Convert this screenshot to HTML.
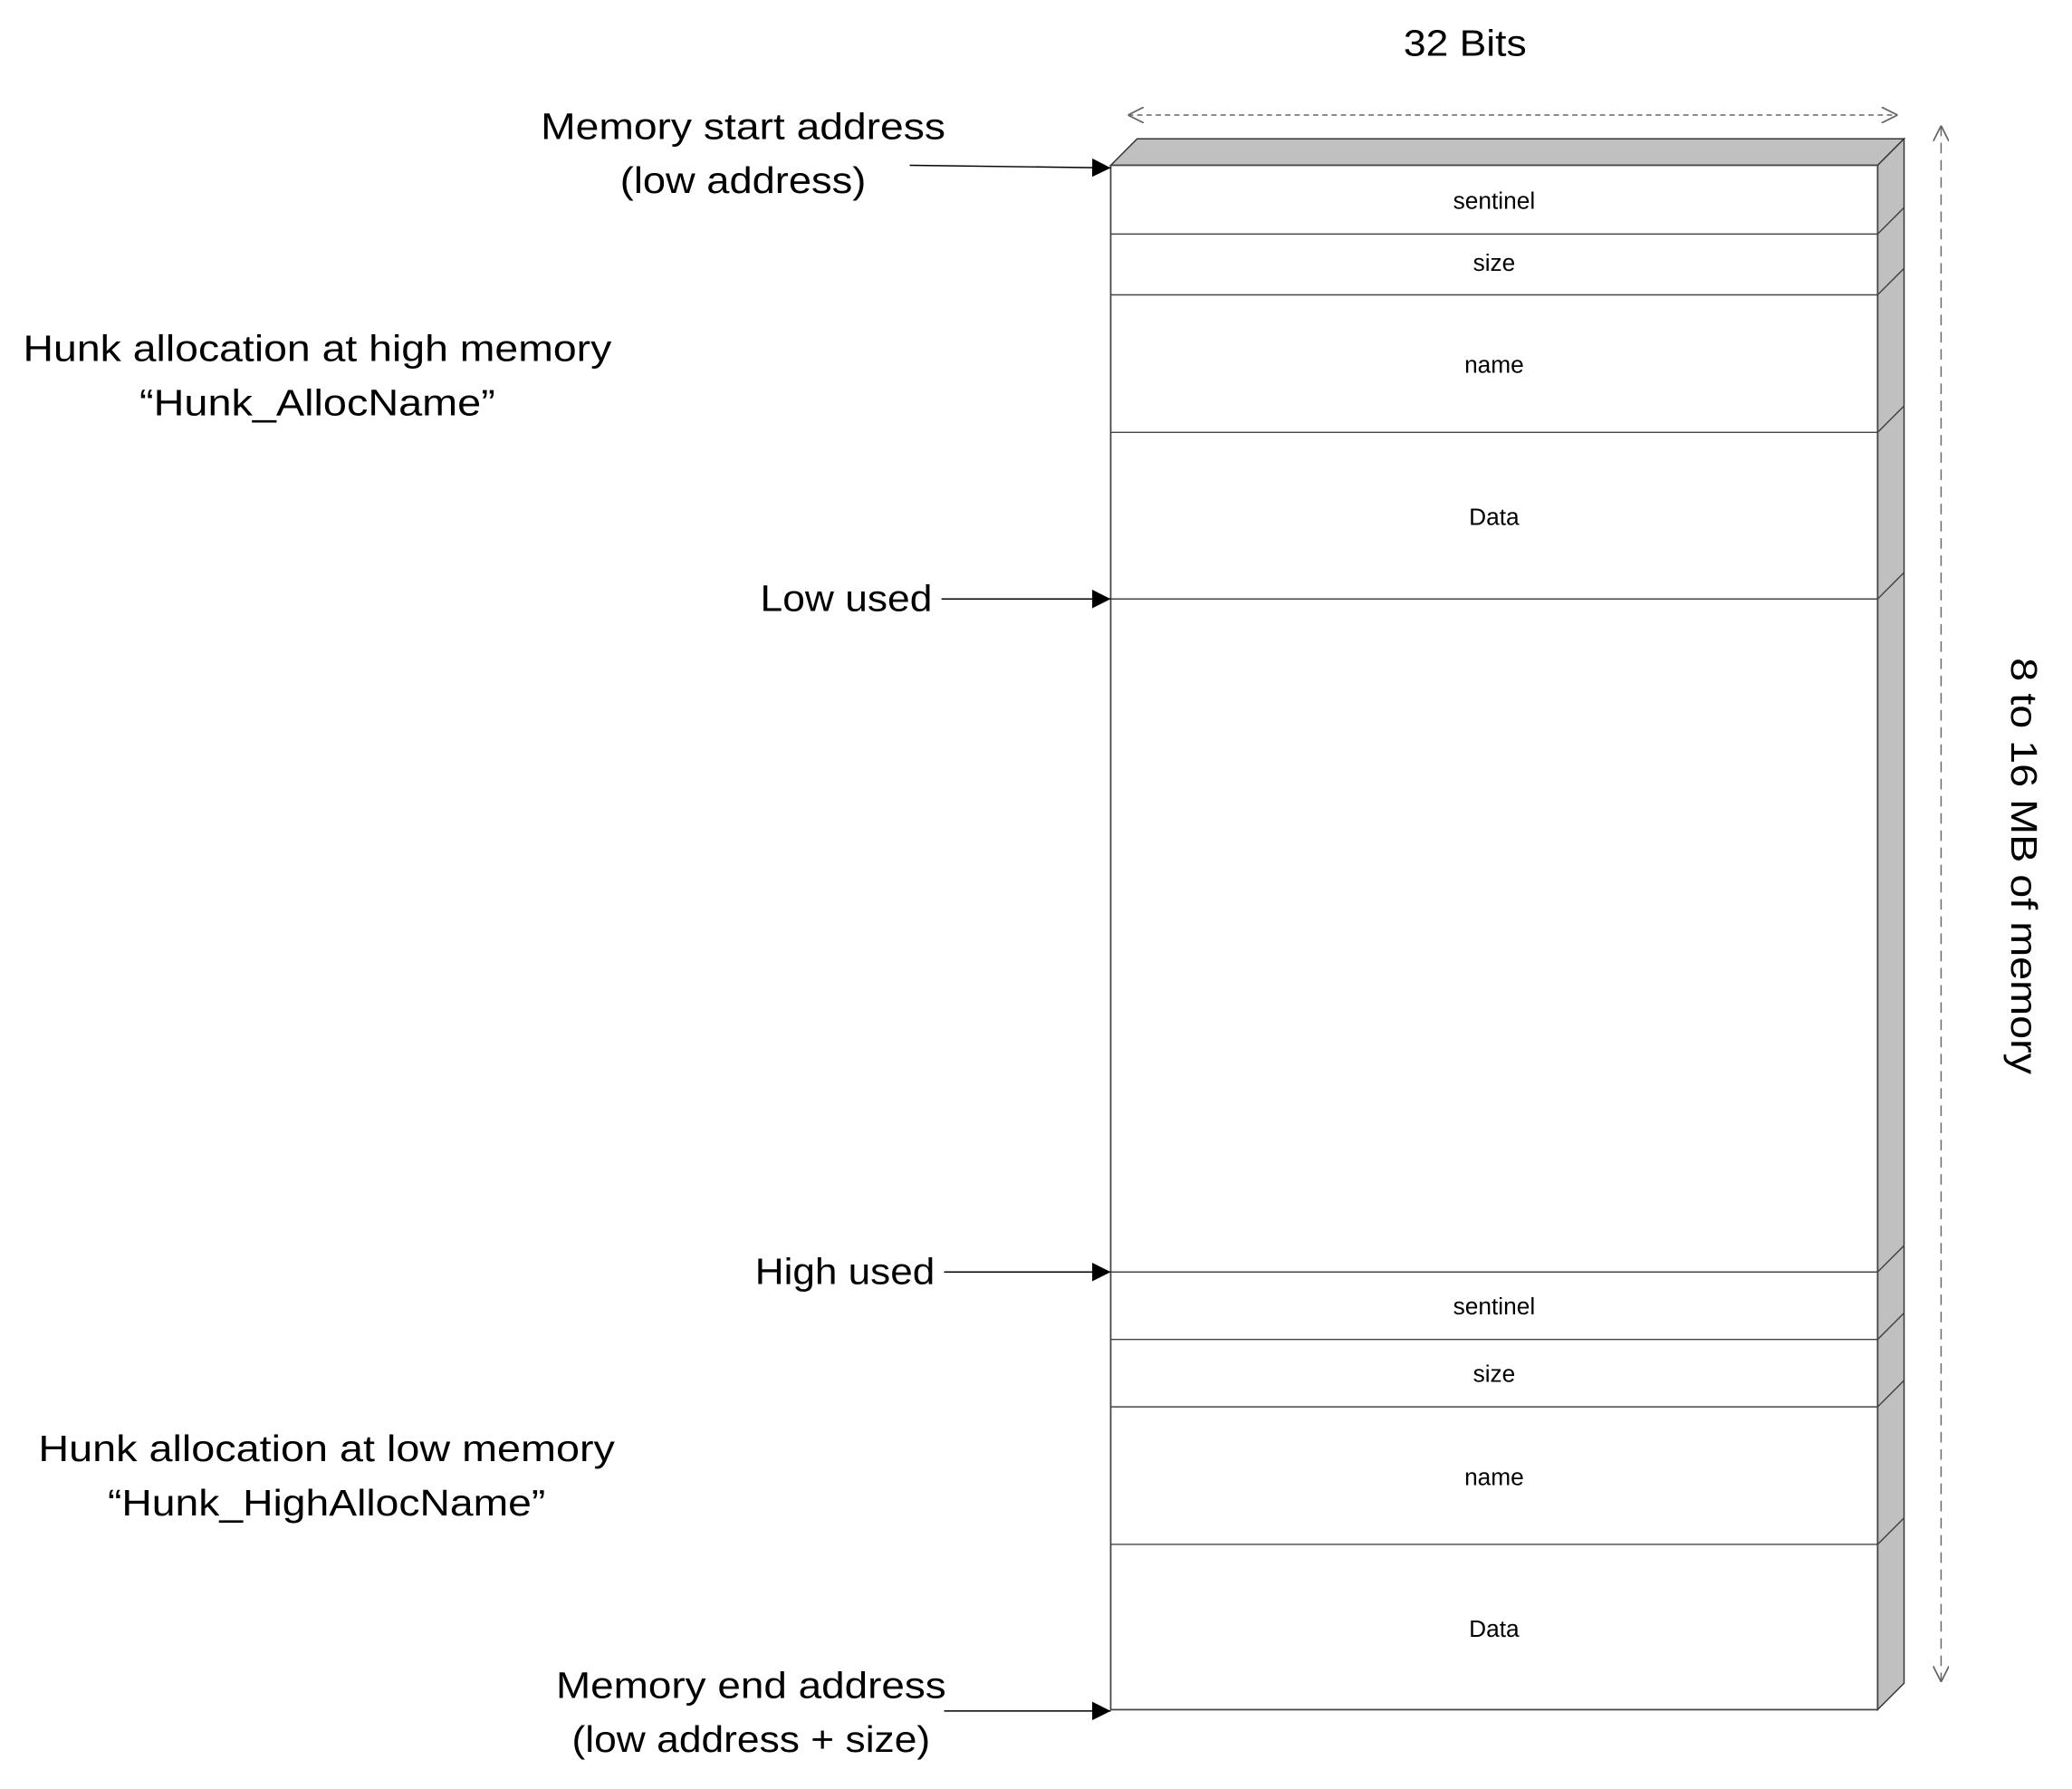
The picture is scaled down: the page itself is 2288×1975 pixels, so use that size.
<!DOCTYPE html>
<html><head><meta charset="utf-8"><style>html,body{margin:0;padding:0;background:#fff}svg{display:block}</style></head>
<body>
<svg width="2288" height="1975" viewBox="0 0 1567 1353" preserveAspectRatio="none" xmlns="http://www.w3.org/2000/svg" font-family="Liberation Sans, sans-serif">
<defs>
<marker id="tri" viewBox="0 0 10 10" refX="10" refY="5" markerWidth="14" markerHeight="14" markerUnits="userSpaceOnUse" orient="auto"><path d="M0,0 L10,5 L0,10 z" fill="#000"/></marker>
<marker id="open" viewBox="0 0 10 10" refX="10" refY="5" markerWidth="12" markerHeight="12" markerUnits="userSpaceOnUse" orient="auto-start-reverse"><path d="M0,0 L10,5 L0,10" fill="none" stroke="#666" stroke-width="1"/></marker>
</defs>
<polygon points="840,125 860,105 1440,105 1420,125" fill="#c0c0c0" stroke="#333" stroke-width="1"/>
<polygon points="1420,125 1440,105 1440,1273 1420,1293" fill="#c0c0c0" stroke="#333" stroke-width="1"/>
<rect x="840" y="125" width="580" height="1168" fill="#fff" stroke="#444" stroke-width="1.2"/>
<g stroke="#444" stroke-width="1">
<line x1="840" y1="177" x2="1420" y2="177"/><line x1="1420" y1="177" x2="1440" y2="157"/>
<line x1="840" y1="223" x2="1420" y2="223"/><line x1="1420" y1="223" x2="1440" y2="203"/>
<line x1="840" y1="327" x2="1420" y2="327"/><line x1="1420" y1="327" x2="1440" y2="307"/>
<line x1="840" y1="453" x2="1420" y2="453"/><line x1="1420" y1="453" x2="1440" y2="433"/>
<line x1="840" y1="962" x2="1420" y2="962"/><line x1="1420" y1="962" x2="1440" y2="942"/>
<line x1="840" y1="1013" x2="1420" y2="1013"/><line x1="1420" y1="1013" x2="1440" y2="993"/>
<line x1="840" y1="1064" x2="1420" y2="1064"/><line x1="1420" y1="1064" x2="1440" y2="1044"/>
<line x1="840" y1="1168" x2="1420" y2="1168"/><line x1="1420" y1="1168" x2="1440" y2="1148"/>
</g>
<g font-size="18" text-anchor="middle" fill="#000">
<text x="1130" y="158">sentinel</text>
<text x="1130" y="205">size</text>
<text x="1130" y="282">name</text>
<text x="1130" y="397">Data</text>
<text x="1130" y="994">sentinel</text>
<text x="1130" y="1045">size</text>
<text x="1130" y="1123">name</text>
<text x="1130" y="1238">Data</text>
</g>
<line x1="853" y1="87" x2="1435" y2="87" stroke="#666" stroke-width="1" stroke-dasharray="4,3" marker-start="url(#open)" marker-end="url(#open)"/>
<line x1="1468" y1="95" x2="1468" y2="1272" stroke="#666" stroke-width="1" stroke-dasharray="8,5" marker-start="url(#open)" marker-end="url(#open)"/>
<g stroke="#000" stroke-width="1">
<line x1="688" y1="125" x2="840" y2="127" marker-end="url(#tri)"/>
<line x1="712" y1="453" x2="840" y2="453" marker-end="url(#tri)"/>
<line x1="714" y1="962" x2="840" y2="962" marker-end="url(#tri)"/>
<line x1="714" y1="1294" x2="840" y2="1294" marker-end="url(#tri)"/>
</g>
<g font-size="28" fill="#000" text-anchor="middle">
<text x="1108" y="42" textLength="93" lengthAdjust="spacingAndGlyphs">32 Bits</text>
<text x="562" y="105" textLength="306" lengthAdjust="spacingAndGlyphs">Memory start address</text>
<text x="562" y="146" textLength="186" lengthAdjust="spacingAndGlyphs">(low address)</text>
<text x="240" y="273" textLength="445" lengthAdjust="spacingAndGlyphs">Hunk allocation at high memory</text>
<text x="240" y="314" textLength="269" lengthAdjust="spacingAndGlyphs">“Hunk_AllocName”</text>
<text x="640" y="462" textLength="130" lengthAdjust="spacingAndGlyphs">Low used</text>
<text x="639" y="971" textLength="136" lengthAdjust="spacingAndGlyphs">High used</text>
<text x="247" y="1105" textLength="436" lengthAdjust="spacingAndGlyphs">Hunk allocation at low memory</text>
<text x="247" y="1146" textLength="331" lengthAdjust="spacingAndGlyphs">“Hunk_HighAllocName”</text>
<text x="568" y="1284" textLength="295" lengthAdjust="spacingAndGlyphs">Memory end address</text>
<text x="568" y="1325" textLength="271" lengthAdjust="spacingAndGlyphs">(low address + size)</text>
<text transform="translate(1521,655) rotate(90)" x="0" y="0" textLength="315" lengthAdjust="spacingAndGlyphs">8 to 16 MB of memory</text>
</g>
</svg>
</body></html>
